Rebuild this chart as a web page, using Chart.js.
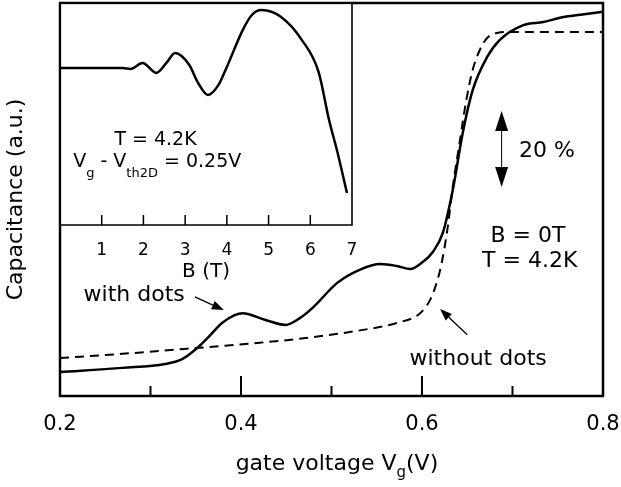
<!DOCTYPE html>
<html>
<head>
<meta charset="utf-8">
<script src="https://cdn.jsdelivr.net/npm/chart.js@4.4.1/dist/chart.umd.min.js"></script>
<style>
  html, body { margin: 0; padding: 0; background: #fff; }
  #wrap { position: relative; width: 621px; height: 487px; }
  #main { position: absolute; left: 0; top: 0; }
  #inset { position: absolute; left: 40px; top: 0; }
</style>
</head>
<body>
<div id="wrap">
  <canvas id="main" width="621" height="487"></canvas>
  <canvas id="inset" width="340" height="300"></canvas>
</div>
<script>
// gate voltage sweep, sample with dots (solid line)
var vgDots = [0.200, 0.269, 0.316, 0.335, 0.349, 0.364, 0.379, 0.393, 0.402, 0.427,
              0.449, 0.465, 0.480, 0.506, 0.531, 0.554, 0.572, 0.587, 0.601, 0.612,
              0.623, 0.634, 0.645, 0.656, 0.672, 0.686, 0.712, 0.734, 0.756, 0.775, 0.800];
var capDots = [6.3, 7.4, 8.4, 9.7, 12.1, 15.5, 19.2, 21.3, 21.8, 20.0,
               18.7, 20.5, 23.4, 29.7, 33.2, 34.7, 34.2, 33.4, 35.3, 37.9,
               42.9, 54.2, 69.2, 80.5, 89.2, 93.7, 97.6, 98.4, 99.7, 100.3, 101.1];

// reference sample without dots (dashed line)
var vgNoDots = [0.200, 0.269, 0.349, 0.415, 0.462, 0.535, 0.572, 0.598, 0.609, 0.615,
                0.621, 0.628, 0.634, 0.642, 0.649, 0.656, 0.664, 0.672, 0.683, 0.700, 0.800];
var capNoDots = [10.0, 11.1, 12.6, 13.9, 15.0, 17.4, 19.2, 21.8, 25.3, 28.9,
                 34.2, 43.7, 55.0, 67.4, 77.9, 85.8, 91.1, 94.2, 95.5, 95.8, 95.8];

// inset: field sweep at Vg - Vth2D = 0.25 V
var bField = [0, 1.5, 1.69, 1.98, 2.31, 2.55, 2.76, 3.1, 3.3, 3.55, 3.8,
              4.0, 4.38, 4.6, 4.83, 5.3, 5.8, 6.2, 6.45, 6.65, 6.88];
var capField = [70.7, 70.7, 70.3, 73.0, 68.5, 73.0, 77.5, 72.1, 64.4, 58.6, 63.1,
                71.2, 87.8, 94.6, 96.8, 93.7, 83.3, 68.9, 47.3, 32.9, 14.4];

var vgMajorTicks = [0.4, 0.6];
var vgMinorTicks = [0.3, 0.5, 0.7];
var bTicks = [1, 2, 3, 4, 5, 6];

var FONT = '"DejaVu Sans", sans-serif';
Chart.defaults.font.family = FONT;
Chart.defaults.color = '#000';

function toPoints(xs, ys) {
  return xs.map(function (x, i) { return { x: x, y: ys[i] }; });
}

// line with a filled head at (x2, y2)
function arrow(ctx, x1, y1, x2, y2, len, wid) {
  var a = Math.atan2(y2 - y1, x2 - x1);
  var bx = x2 - len * Math.cos(a), by = y2 - len * Math.sin(a);
  ctx.beginPath(); ctx.moveTo(x1, y1); ctx.lineTo(bx, by); ctx.stroke();
  ctx.beginPath();
  ctx.moveTo(x2, y2);
  ctx.lineTo(bx + wid / 2 * Math.sin(a), by - wid / 2 * Math.cos(a));
  ctx.lineTo(bx - wid / 2 * Math.sin(a), by + wid / 2 * Math.cos(a));
  ctx.closePath(); ctx.fill();
}

// text made of pieces, some of them subscripts; centred on cx
function richText(ctx, parts, cx, y, size, subSize, drop) {
  var total = 0;
  parts.forEach(function (p) {
    ctx.font = (p.sub ? subSize : size) + 'px ' + FONT;
    p.w = ctx.measureText(p.t).width;
    total += p.w;
  });
  var x = cx - total / 2;
  ctx.textAlign = 'left';
  ctx.textBaseline = 'alphabetic';
  parts.forEach(function (p) {
    ctx.font = (p.sub ? subSize : size) + 'px ' + FONT;
    ctx.fillText(p.t, x, p.sub ? y + drop : y);
    x += p.w;
  });
}

var mainNotes = [
  { parts: [{ t: 'with dots' }], x: 0.282, y: 25.0 },
  { parts: [{ t: 'without dots' }], x: 0.662, y: 8.2 },
  { parts: [{ t: '20 %' }], x: 0.738, y: 62.9 },
  { parts: [{ t: 'B = 0T' }], x: 0.717, y: 40.5 },
  { parts: [{ t: 'T = 4.2K' }], x: 0.719, y: 33.9 }
];

var mainPlugin = {
  id: 'mainFrame',
  beforeDraw: function (chart) {
    var ctx = chart.ctx;
    ctx.save();
    ctx.fillStyle = '#fff';
    ctx.fillRect(0, 0, chart.width, chart.height);
    ctx.restore();
  },
  afterDraw: function (chart) {
    var ctx = chart.ctx, a = chart.chartArea;
    var sx = chart.scales.x, sy = chart.scales.y;
    ctx.save();
    ctx.strokeStyle = '#000';
    ctx.fillStyle = '#000';
    ctx.lineWidth = 2.5;
    ctx.strokeRect(a.left, a.top, a.right - a.left, a.bottom - a.top);

    // inward tick marks on the bottom axis
    ctx.lineWidth = 2;
    ctx.beginPath();
    vgMajorTicks.forEach(function (v) {
      var px = sx.getPixelForValue(v);
      ctx.moveTo(px, a.bottom); ctx.lineTo(px, a.bottom - 20);
    });
    vgMinorTicks.forEach(function (v) {
      var px = sx.getPixelForValue(v);
      ctx.moveTo(px, a.bottom); ctx.lineTo(px, a.bottom - 10);
    });
    ctx.stroke();

    mainNotes.forEach(function (n) {
      richText(ctx, n.parts, sx.getPixelForValue(n.x), sy.getPixelForValue(n.y), 22, 15, 7);
    });

    // x axis title with subscript
    richText(ctx, [{ t: 'gate voltage V' }, { t: 'g', sub: true }, { t: '(V)' }],
      sx.getPixelForValue(0.506), a.bottom + 74, 22, 15, 7);

    // pointers to the two curves
    ctx.lineWidth = 1.3;
    arrow(ctx, sx.getPixelForValue(0.349), sy.getPixelForValue(26.1),
      sx.getPixelForValue(0.381), sy.getPixelForValue(22.6), 12, 9);
    arrow(ctx, sx.getPixelForValue(0.650), sy.getPixelForValue(16.1),
      sx.getPixelForValue(0.620), sy.getPixelForValue(22.9), 12, 9);

    // 20 % scale bar
    var bx = sx.getPixelForValue(0.688);
    var yTop = sy.getPixelForValue(75), yBot = sy.getPixelForValue(55);
    var yMid = (yTop + yBot) / 2;
    ctx.lineWidth = 1;
    arrow(ctx, bx, yMid, bx, yTop, 20, 13);
    arrow(ctx, bx, yMid, bx, yBot, 20, 13);
    ctx.restore();
  }
};

new Chart(document.getElementById('main'), {
  type: 'line',
  data: {
    datasets: [
      {
        label: 'with dots',
        data: toPoints(vgDots, capDots),
        borderColor: '#000',
        borderWidth: 2.5,
        pointRadius: 0,
        cubicInterpolationMode: 'monotone'
      },
      {
        label: 'without dots',
        data: toPoints(vgNoDots, capNoDots),
        borderColor: '#000',
        borderWidth: 2,
        borderDash: [9, 6],
        pointRadius: 0,
        cubicInterpolationMode: 'monotone'
      }
    ]
  },
  options: {
    responsive: false,
    animation: false,
    layout: { padding: { top: 3, right: 18, left: 0, bottom: 0 } },
    plugins: { legend: { display: false }, tooltip: { enabled: false } },
    scales: {
      x: {
        type: 'linear', min: 0.2, max: 0.8,
        grid: { display: false }, border: { display: false },
        ticks: {
          stepSize: 0.2, padding: 8, autoSkip: false, maxRotation: 0,
          font: { size: 21 }, color: '#000',
          callback: function (v) { return v.toFixed(1); }
        },
        afterFit: function (s) {
          s.height = 91;
          s.paddingLeft = 0;
          s.paddingRight = 0;
        }
      },
      y: {
        type: 'linear', min: 0, max: 103.4,
        grid: { display: false }, border: { display: false },
        ticks: { display: false },
        title: {
          display: true, text: 'Capacitance (a.u.)', color: '#000',
          font: { size: 22 }, padding: { top: 3, bottom: 0 }
        },
        afterFit: function (s) { s.width = 60; }
      }
    }
  },
  plugins: [mainPlugin]
});

var insetNotes = [
  { parts: [{ t: 'T = 4.2K' }], x: 2.29, y: 36.0 },
  { parts: [{ t: 'V' }, { t: 'g', sub: true }, { t: ' - V' }, { t: 'th2D', sub: true }, { t: ' = 0.25V' }],
    x: 2.33, y: 26.1 }
];

var insetPlugin = {
  id: 'insetFrame',
  beforeDraw: function (chart) {
    var ctx = chart.ctx, a = chart.chartArea;
    ctx.save();
    ctx.fillStyle = '#fff';
    ctx.fillRect(a.left + 1.5, a.top + 1.5, a.right - a.left - 1.5, a.bottom - a.top - 1.5);
    ctx.restore();
  },
  afterDraw: function (chart) {
    var ctx = chart.ctx, a = chart.chartArea;
    var sx = chart.scales.x, sy = chart.scales.y;
    ctx.save();
    ctx.strokeStyle = '#000';
    ctx.fillStyle = '#000';
    ctx.lineWidth = 1.6;
    ctx.beginPath();
    ctx.moveTo(a.left, a.bottom); ctx.lineTo(a.right, a.bottom); ctx.lineTo(a.right, a.top);
    ctx.stroke();
    ctx.lineWidth = 1.5;
    ctx.beginPath();
    bTicks.forEach(function (b) {
      var px = sx.getPixelForValue(b);
      ctx.moveTo(px, a.bottom); ctx.lineTo(px, a.bottom - 10);
    });
    ctx.stroke();
    insetNotes.forEach(function (n) {
      richText(ctx, n.parts, sx.getPixelForValue(n.x), sy.getPixelForValue(n.y), 19, 13, 10);
    });
    ctx.restore();
  }
};

new Chart(document.getElementById('inset'), {
  type: 'line',
  data: {
    datasets: [{
      data: toPoints(bField, capField),
      borderColor: '#000',
      borderWidth: 2.5,
      pointRadius: 0,
      cubicInterpolationMode: 'monotone'
    }]
  },
  options: {
    responsive: false,
    animation: false,
    layout: { padding: { top: 3, right: 28, left: 20, bottom: 0 } },
    plugins: { legend: { display: false }, tooltip: { enabled: false } },
    scales: {
      x: {
        type: 'linear', min: 0, max: 7,
        grid: { display: false }, border: { display: false },
        ticks: {
          stepSize: 1, padding: 7, autoSkip: false, maxRotation: 0,
          font: { size: 17 }, color: '#000',
          callback: function (v) { return v === 0 ? '' : v; }
        },
        title: {
          display: true, text: 'B (T)', color: '#000',
          font: { size: 20 }, padding: { top: 0, bottom: 16 }
        },
        afterFit: function (s) { s.height = 75; }
      },
      y: { type: 'linear', min: 0, max: 100, display: false }
    }
  },
  plugins: [insetPlugin]
});
</script>
</body>
</html>
